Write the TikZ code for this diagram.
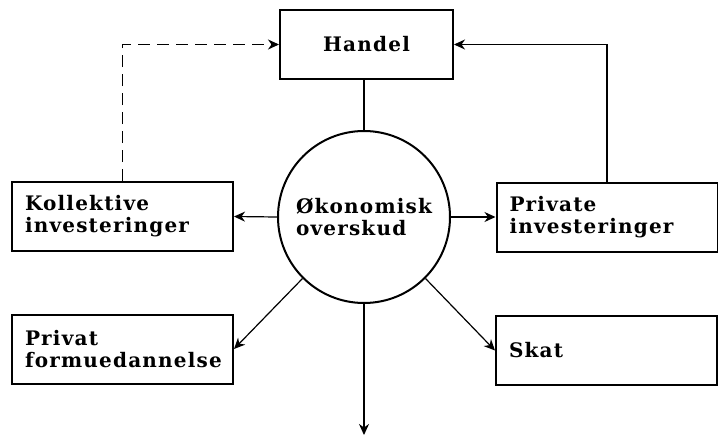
\documentclass[tikz,border=0pt]{standalone}
\usepackage{fontspec}
\setmainfont{DejaVu Serif}[LetterSpace=6]
\usetikzlibrary{arrows.meta}
\begin{document}
\begin{tikzpicture}[x=1pt,y=-1pt,
  every node/.style={font=\bfseries\fontsize{20}{22}\selectfont},
  box/.style={draw,line width=2pt,inner sep=0pt,minimum height=69pt},
  lbox/.style={box,text width=195pt,inner xsep=13pt,align=left},
  conn/.style={line width=1.2pt},
  arr/.style={conn,-{Stealth[length=11pt,width=10pt,inset=3.5pt]}}]
\useasboundingbox (0,0) rectangle (718,439);
\node[box,minimum width=173pt] (han) at (366.5,44.5) {Handel};
\node[draw,circle,line width=2pt,minimum size=172pt,inner sep=0pt,align=left] (c) at (364,217) {Økonomisk\\overskud};
\node[lbox] (kol) at (122.5,216.5) {Kollektive\\investeringer};
\node[lbox] (pri) at (607,217) {Private\\investeringer};
\node[lbox] (pf) at (122.5,349) {Privat\\formuedannelse};
\node[lbox] (skat) at (606.5,350.5) {Skat};
\coordinate (down) at (364,435);
\draw[conn] (c.north) -- (c.north |- han.south);
\draw[arr] (c.west) -- (kol.east);
\draw[arr] (c.east) -- (pri.west);
\draw[arr] (c.225) -- (pf.east);
\draw[arr] (c.-45) -- (skat.west);
\draw[arr] (c.south) -- (down);
\draw[arr,dash pattern=on 12pt off 7pt] (kol.north) |- (han.west);
\draw[arr] (pri.north) |- (han.east);
\end{tikzpicture}
\end{document}
